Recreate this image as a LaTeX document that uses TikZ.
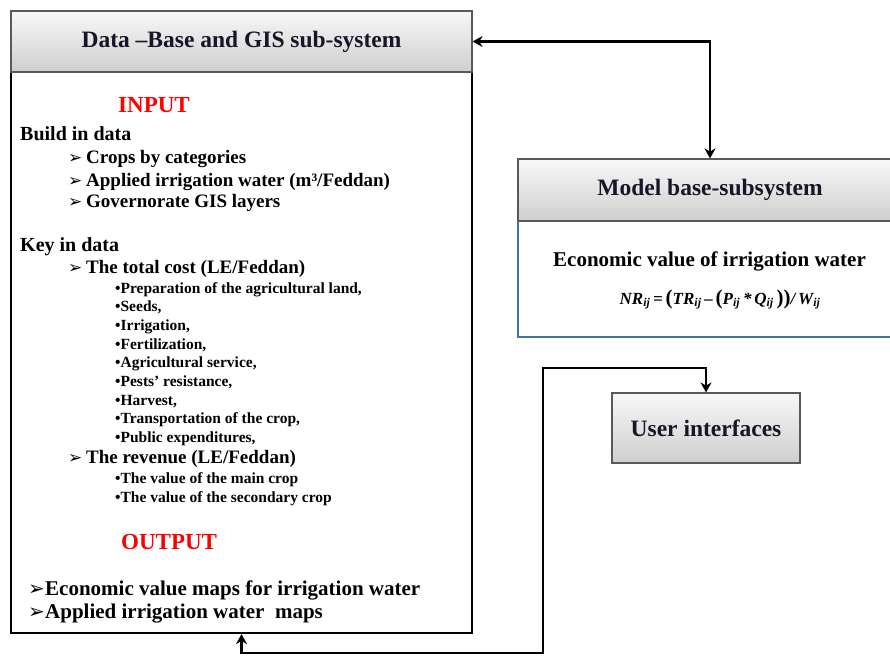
\documentclass[tikz,border=0pt]{standalone}
\usepackage{fontspec}
\setmainfont{Liberation Serif}
\newfontfamily\dejavu{DejaVu Sans}
\usetikzlibrary{arrows.meta,positioning}

\definecolor{hdrtext}{RGB}{22,22,40}
\definecolor{modelblue}{RGB}{70,110,170}

\newcommand{\fsz}[1]{\fontsize{#1}{#1}\selectfont}
\newcommand{\pointer}[2]{\makebox[#2][l]{\dejavu\bfseries\fsz{#1}➢}}
\newcommand{\subij}{\textsubscript{ij}}
\newcommand{\tallpar}[1]{{\upshape\fsz{21}#1}}

\tikzset{
  hdrbox/.style={draw=black!65, line width=1.2pt, top color=gray!6, bottom color=gray!38,
    text=hdrtext, font=\fsz{23.5}\bfseries, inner sep=0pt},
  bodybox/.style={draw=black, line width=2.2pt, fill=white, inner sep=0pt},
  line/.style={inner sep=0pt, anchor=base west, font=\bfseries},
  redlbl/.style={line, text=red, font=\fsz{23}\bfseries},
  link/.style={line width=2.4pt, {Stealth[length=10pt,width=11pt]}-{Stealth[length=10pt,width=11pt]}}
}

\begin{document}
\begin{tikzpicture}[x=1pt, y=-1pt]
  \useasboundingbox (0,0) rectangle (890,655);
  \clip (0,0) rectangle (890,655);

  % data-base and GIS sub-system
  \node[bodybox, minimum width=461pt, minimum height=561pt] (databody) at (241.5,352.5) {};
  \node[hdrbox, minimum width=461pt, minimum height=61pt] (datahdr) at (241.5,41.5) {Data –Base and GIS sub-system};

  \node[redlbl] (inputlbl) at (118,113) {INPUT};
  \node[line, font=\fsz{20}\bfseries] (buildlbl) at (20,141) {Build in data};
  \node[line, font=\fsz{19}\bfseries] (crops) at (68,164) {\pointer{17}{18pt}Crops by categories};
  \node[line, font=\fsz{19}\bfseries] (applied) at (68,186) {\pointer{17}{18pt}Applied irrigation water (m³/Feddan)};
  \node[line, font=\fsz{19}\bfseries] (gislayers) at (68,207) {\pointer{17}{18pt}Governorate GIS layers};

  \node[line, font=\fsz{20}\bfseries] (keylbl) at (20,251) {Key in data};
  \node[line, font=\fsz{19}\bfseries] (totalcost) at (68,273) {\pointer{17}{18pt}The total cost (LE/Feddan)};
  \foreach \txt [count=\i from 0] in {{Preparation of the agricultural land,}, {Seeds,}, {Irrigation,},
      {Fertilization,}, {Agricultural service,}, {Pests’ resistance,}, {Harvest,},
      {Transportation of the crop,}, {Public expenditures,}}
    \node[line, font=\fsz{15.5}\bfseries] (cost\i) at (115,293+18.7*\i) {•\txt};

  \node[line, font=\fsz{19}\bfseries] (revenue) at (68,463) {\pointer{17}{18pt}The revenue (LE/Feddan)};
  \node[line, font=\fsz{15.5}\bfseries] (rev1) at (115,483) {•The value of the main crop};
  \node[line, font=\fsz{15.5}\bfseries] (rev2) at (115,502) {•The value of the secondary crop};

  \node[redlbl] (outputlbl) at (121,549) {OUTPUT};
  \node[line, font=\fsz{21}\bfseries] (outmaps1) at (28,595) {\pointer{20}{17pt}Economic value maps for irrigation water};
  \node[line, font=\fsz{21}\bfseries] (outmaps2) at (28,618) {\pointer{20}{17pt}Applied irrigation water\ \ maps};

  % model base-subsystem
  \node[draw=modelblue, line width=1.2pt, fill=white, minimum width=384pt, minimum height=116pt] (modelbody) at (710,279) {};
  \node[hdrbox, minimum width=384pt, minimum height=62pt] (modelhdr) at (710,190) {Model base-subsystem};
  \node[line, anchor=base, font=\fsz{21}\bfseries] (econval) at (709.5,266) {Economic value of irrigation water};
  \node[line, anchor=base, font=\fsz{17}\bfseries\itshape] (formula) at (720,304)
    {NR\subij\,=\,\tallpar{(}TR\subij\,–\,\tallpar{(}P\subij\,*\,Q\subij\,\tallpar{))}/\,W\subij};

  % user interfaces
  \node[hdrbox, minimum width=188pt, minimum height=70pt] (userbox) at (706,428) {User interfaces};

  % connectors
  \coordinate (loopbot) at (543,653);
  \coordinate (looptop) at (543,368);
  \draw[link] (datahdr.east) -| (modelhdr.north);
  \draw[link] (databody.south) |- (loopbot) -- (looptop) -| (userbox.north);
\end{tikzpicture}
\end{document}
